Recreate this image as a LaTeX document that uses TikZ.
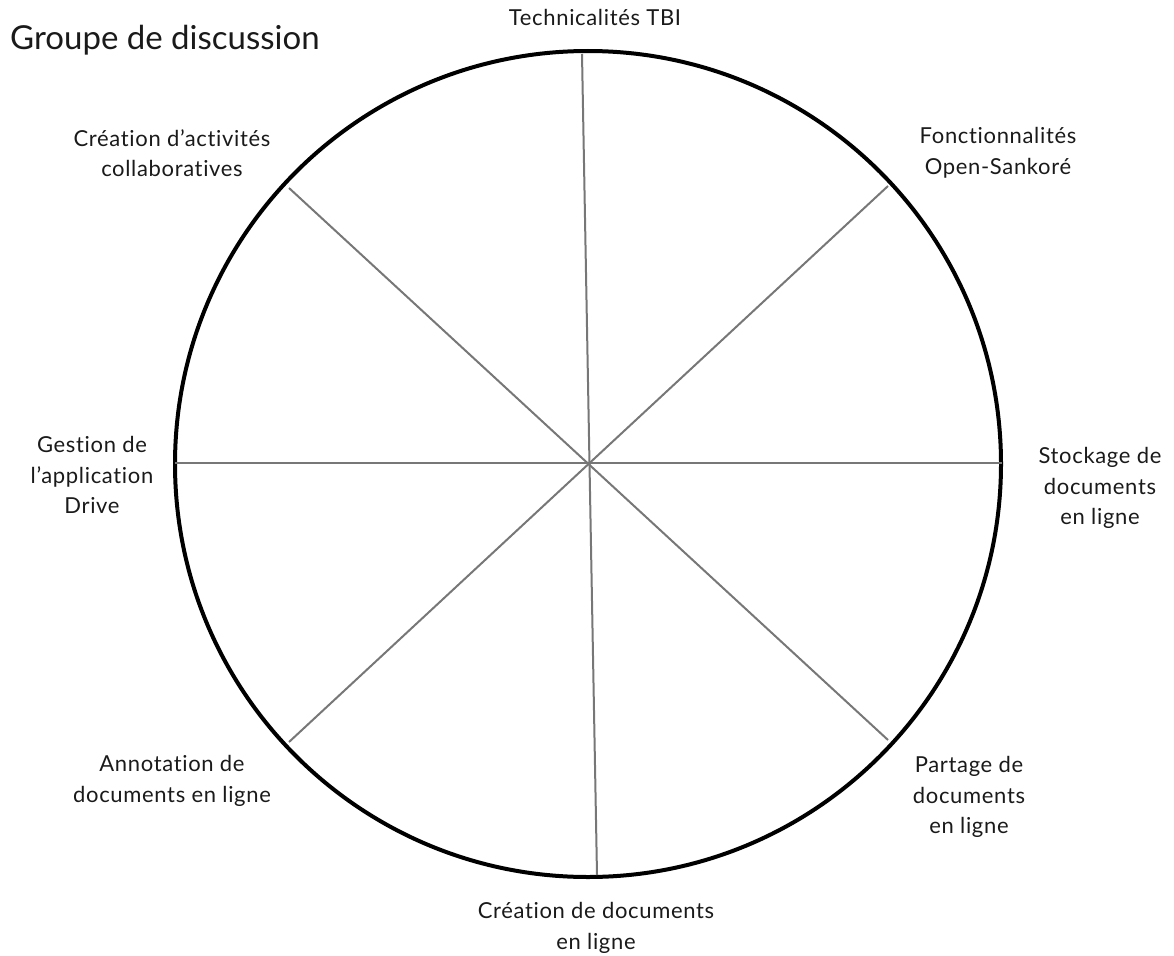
\documentclass[tikz,border=0pt]{standalone}
\usepackage{fontspec}
\setmainfont[Ligatures=CommonOff]{Lato}
\newfontfamily\lblfont[LetterSpace=3,Ligatures=CommonOff]{Lato}
\definecolor{spoke}{HTML}{777777}
\definecolor{ink}{HTML}{1A1A1A}
\begin{document}
\begin{tikzpicture}[x=1pt,y=-1pt,
  rim/.style={draw=black,line width=4pt,circle,minimum size=826pt,inner sep=0pt},
  spokeline/.style={draw=spoke,line width=2pt},
  lbl/.style={text=ink,align=center,inner sep=0pt,font=\lblfont\fontsize{22}{30.5}\selectfont},
  ttl/.style={text=ink,inner sep=0pt,font=\fontsize{33}{38}\selectfont}]
\useasboundingbox (0,0) rectangle (1174,955);

% outer wheel
\node[rim] (wheel) at (588,464) {};

% spoke end points
\coordinate (hub) at (589,464);
\coordinate (n)  at (582,54);
\coordinate (s)  at (597,875);
\coordinate (w)  at (175,463);
\coordinate (e)  at (1002,463);
\coordinate (nw) at (289,188);
\coordinate (ne) at (888,186);
\coordinate (sw) at (289,742);
\coordinate (se) at (888,740);

\draw[spokeline] (n) -- (s);
\draw[spokeline] (w) -- (e);
\draw[spokeline] (nw) -- (se);
\draw[spokeline] (ne) -- (sw);

% title
\node[ttl,anchor=base west] (title) at (10,50) {Groupe de discussion};

% sector labels
\node[lbl,anchor=base] (tbi) at (595,26) {Technicalités TBI};
\node[lbl] (collab) at (172,153) {Création d’activités\\collaboratives};
\node[lbl] (sankore) at (998,153) {Fonctionnalités\\Open-Sankoré};
\node[lbl] (drive) at (92,475) {Gestion de\\l’application\\Drive};
\node[lbl] (stock) at (1100,488) {Stockage de\\documents\\en ligne};
\node[lbl] (annot) at (172,781) {Annotation de\\documents en ligne};
\node[lbl] (share) at (969,797) {Partage de\\documents\\en ligne};
\node[lbl] (create) at (596,928) {Création de documents\\en ligne};
\end{tikzpicture}
\end{document}
